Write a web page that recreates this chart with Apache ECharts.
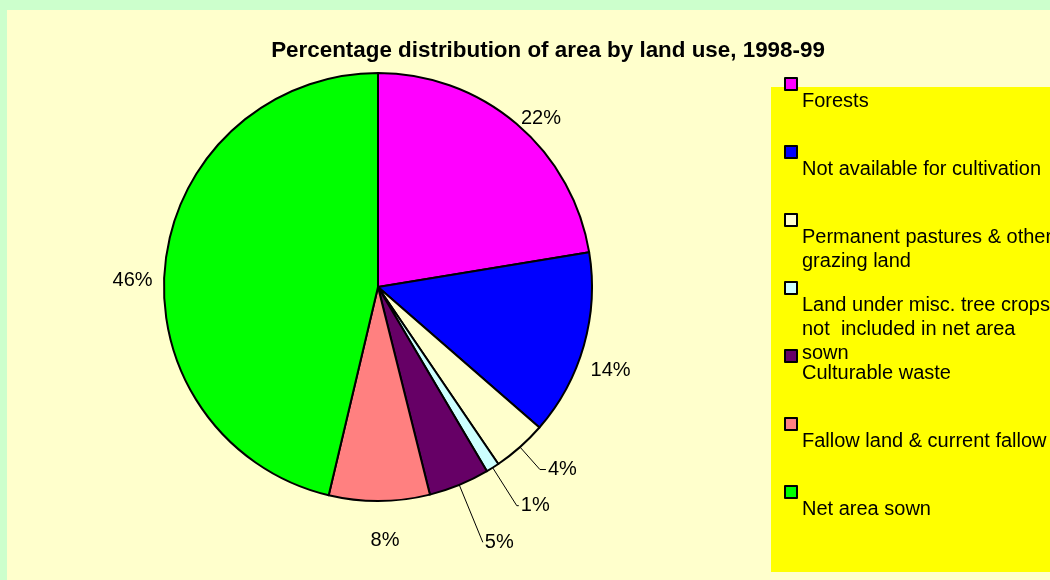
<!DOCTYPE html>
<html>
<head>
<meta charset="utf-8">
<script src="https://cdn.jsdelivr.net/npm/echarts@6/dist/echarts.min.js"></script>
<style>
  html, body { margin: 0; padding: 0; background: #ccffcc; }
  #main { width: 1050px; height: 580px; }
</style>
</head>
<body>
<div id="main"></div>
<script>
// land use categories, share of reporting area in %
var categories = [
    'Forests',
    'Not available for cultivation',
    'Permanent pastures & other grazing land',
    'Land under misc. tree crops not  included in net area sown',
    'Culturable waste',
    'Fallow land & current fallow',
    'Net area sown'
];
var shares = [22.4, 14.0, 4.1, 1.0, 4.6, 7.6, 46.3];
// legend text as it wraps in the picture
var legendLabels = [
    'Forests',
    'Not available for cultivation',
    'Permanent pastures & other\ngrazing land',
    'Land under misc. tree crops\nnot  included in net area\nsown',
    'Culturable waste',
    'Fallow land & current fallow',
    'Net area sown'
];
var colors = ['#ff00ff', '#0000ff', '#ffffcc', '#ccffff', '#660066', '#ff8080', '#00ff00'];

// which labels have leader lines and how far out they sit
var lineLen = [7, 7, 30, 45, 62, 39, 13];
var lineLen2 = [0, 0, 6, 2, 0, 0, 0];
var withLine = [false, false, true, true, true, false, false];

var FONT = 'Liberation Sans, Arial, sans-serif';

var myChart = echarts.init(document.getElementById('main'));

var pieData = categories.map(function (name, i) {
    return {
        name: name,
        value: shares[i],
        itemStyle: { color: colors[i] },
        labelLine: { show: withLine[i], length: lineLen[i], length2: lineLen2[i] },
        label: { distanceToLabelLine: withLine[i] ? 2 : 0 }
    };
});

// one legend per entry so the icons keep an even step while text wraps;
// the text hangs below the icon like in the original
var legends = categories.map(function (name, i) {
    var lines = legendLabels[i].split('\n');
    return {
        orient: 'vertical',
        left: 784,
        top: 78 + 68 * i - (4 + 12 * lines.length),
        padding: 0,
        itemWidth: 12,
        itemHeight: 12,
        icon: 'rect',
        selectedMode: false,
        itemStyle: { borderColor: '#000', borderWidth: 2 },
        data: [name],
        formatter: function () {
            return '{gap| }\n' + lines.map(function (l) { return '{t|' + l + '}'; }).join('\n');
        },
        textStyle: {
            fontFamily: FONT,
            fontSize: 20,
            color: '#000',
            rich: {
                gap: { lineHeight: 11 + 24 * lines.length, fontSize: 20 },
                t: { lineHeight: 24, fontSize: 20, fontFamily: FONT, color: '#000' }
            }
        }
    };
});

var option = {
    backgroundColor: '#ccffcc',
    animation: false,
    title: {
        text: 'Percentage distribution of area by land use, 1998-99',
        left: 548,
        top: 40,
        padding: 0,
        textAlign: 'center',
        textStyle: {
            fontFamily: FONT,
            fontSize: 22.4,
            fontWeight: 'bold',
            color: '#000'
        }
    },
    graphic: [
        { type: 'rect', z: -10, shape: { x: 7, y: 10, width: 1043, height: 570 }, style: { fill: '#ffffcc' } },
        { type: 'rect', z: -9, shape: { x: 771, y: 87, width: 279, height: 485 }, style: { fill: '#ffff00' } }
    ],
    legend: legends,
    series: [{
        type: 'pie',
        center: [378, 287],
        radius: 214,
        startAngle: 90,
        clockwise: true,
        avoidLabelOverlap: false,
        itemStyle: { borderColor: '#000', borderWidth: 2 },
        emphasis: { disabled: true },
        label: {
            position: 'outside',
            fontFamily: FONT,
            fontSize: 20,
            color: '#000',
            formatter: function (p) { return Math.round(p.value) + '%'; }
        },
        labelLine: { lineStyle: { color: '#000', width: 1 } },
        labelLayout: function (p) {
            // small nudges where the original placed labels off the radial
            if (p.dataIndex === 1) return { dy: 23 };
            if (p.dataIndex === 6) return { dy: 20 };
            if (p.dataIndex === 5) return { dx: -9 };
            return {};
        },
        data: pieData
    }]
};

myChart.setOption(option);
</script>
</body>
</html>
